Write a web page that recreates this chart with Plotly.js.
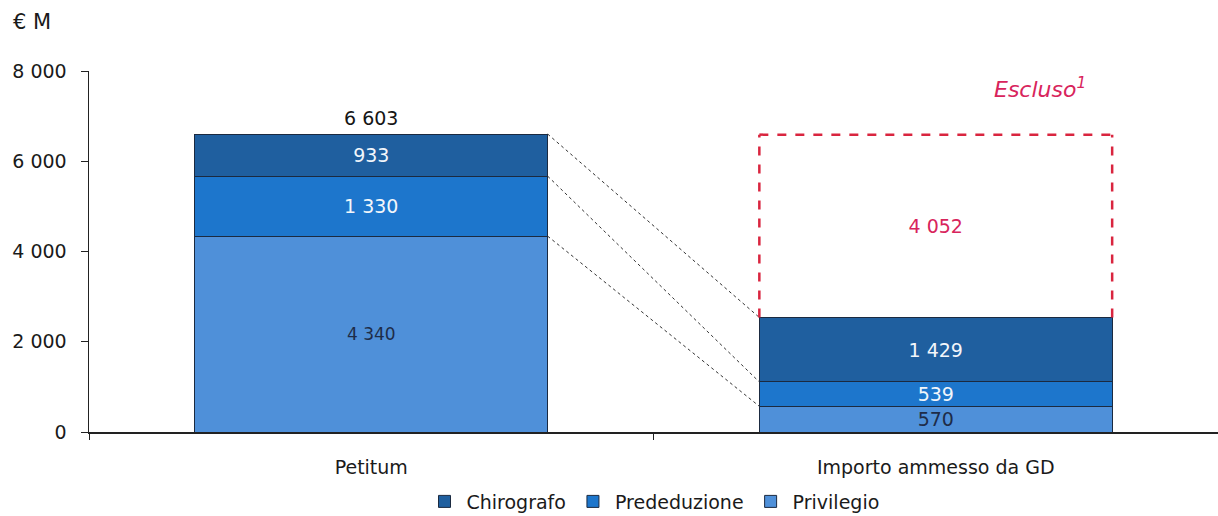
<!DOCTYPE html>
<html><head><meta charset="utf-8">
<script src="https://cdn.plot.ly/plotly-3.0.1.min.js"></script>
<style>html,body{margin:0;padding:0;background:#fff;}#chart{width:1218px;height:516px;}</style>
</head><body><div id="chart"></div>
<script>
const categories = ["Petitum", "Importo ammesso da GD"];
const privilegio = [4340, 570];
const prededuzione = [1330, 539];
const chirografo = [933, 1429];
const escluso = [null, 4052];
const seriesNames = ["Privilegio", "Prededuzione", "Chirografo"];
const yTicks = [0, 2000, 4000, 6000, 8000];

const FONT = "DejaVu Sans, Verdana, sans-serif";
const barWidth = 0.625;
const edge = "#1b2a40";

const totals = categories.map((c, i) => privilegio[i] + prededuzione[i] + chirografo[i]);
const exIdx = escluso.map((v, i) => v == null ? -1 : i).filter(i => i >= 0);

const traces = [
  {type: "bar", name: seriesNames[0], x: categories, y: privilegio, width: barWidth,
   marker: {color: "#4f90d9", line: {color: edge, width: 1}},
   texttemplate: "%{y:,}", textposition: "inside", insidetextanchor: "middle", constraintext: "none",
   textfont: {family: FONT, size: [17, 19], color: "#1e2c48"}, hoverinfo: "y+name"},
  {type: "bar", name: seriesNames[1], x: categories, y: prededuzione, width: barWidth,
   marker: {color: "#1d76cc", line: {color: edge, width: 1}},
   texttemplate: "%{y:,}", textposition: "inside", insidetextanchor: "middle", constraintext: "none",
   textfont: {family: FONT, size: 19, color: "#f2f6fb"}, hoverinfo: "y+name"},
  {type: "bar", name: seriesNames[2], x: categories, y: chirografo, width: barWidth,
   marker: {color: "#1f5f9f", line: {color: edge, width: 1}},
   texttemplate: "%{y:,}", textposition: "inside", insidetextanchor: "middle", constraintext: "none",
   textfont: {family: FONT, size: 19, color: "#f2f6fb"}, hoverinfo: "y+name"},
  {type: "bar", name: "Escluso", x: exIdx.map(i => categories[i]), y: exIdx.map(i => escluso[i]),
   width: barWidth, showlegend: false,
   marker: {color: "rgba(0,0,0,0)", line: {width: 0}},
   texttemplate: "%{y:,}", textposition: "inside", insidetextanchor: "middle", constraintext: "none",
   textfont: {family: FONT, size: 19, color: "#d8245c"}, hoverinfo: "y+name"}
];

// connector dotted lines
const shapes = [];
const leftLevels = [totals[0], privilegio[0] + prededuzione[0], privilegio[0]];
const rightLevels = [totals[1], privilegio[1] + prededuzione[1], privilegio[1]];
for (let k = 0; k < 3; k++) {
  shapes.push({type: "line", xref: "x", yref: "y", x0: 0 + barWidth / 2, x1: 1 - barWidth / 2,
    y0: leftLevels[k], y1: rightLevels[k], line: {color: "#333", width: 1, dash: "dot"}});
}
// dashed outline of excluded amount
const exTop = totals[1] + escluso[1];
const xl = 1 - barWidth / 2, xr = 1 + barWidth / 2;
const dashLine = {color: "#d9253f", width: 2.5, dash: "dash"};
shapes.push({type: "line", xref: "x", yref: "y", x0: xl, x1: xl, y0: totals[1], y1: exTop, line: dashLine});
shapes.push({type: "line", xref: "x", yref: "y", x0: xl, x1: xr, y0: exTop, y1: exTop, line: dashLine});
shapes.push({type: "line", xref: "x", yref: "y", x0: xr, x1: xr, y0: totals[1], y1: exTop, line: dashLine});

const fmt = v => String(v).replace(/\B(?=(\d{3})+(?!\d))/g, " ");

const layout = {
  width: 1218, height: 516,
  margin: {l: 89, r: 0, t: 71, b: 84, autoexpand: false},
  paper_bgcolor: "#fff", plot_bgcolor: "#fff",
  barmode: "stack",
  separators: ", ",
  font: {family: FONT, size: 19, color: "#1a1a1a"},
  showlegend: true,
  legend: {orientation: "h", xref: "paper", x: 0.5, xanchor: "center",
           yref: "container", y: 0.028, yanchor: "middle",
           traceorder: "reversed", itemwidth: 34,
           font: {family: FONT, size: 19, color: "#1a1a1a"}},
  xaxis: {type: "category", range: [-0.5, 1.5], showline: true, linecolor: "#222", linewidth: 1.5,
          automargin: false,
          ticks: "outside", tickson: "boundaries", ticklen: 6, tickcolor: "#222", ticklabelstandoff: 18,
          showgrid: false, zeroline: false, tickfont: {family: FONT, size: 19, color: "#1a1a1a"}},
  yaxis: {range: [0, 8000], tickvals: yTicks, tickformat: ",", showline: true, linecolor: "#222",
          automargin: false,
          linewidth: 1.5, ticks: "outside", ticklen: 7, tickcolor: "#222", showgrid: false,
          ticklabelstandoff: 10,
          zeroline: false, tickfont: {family: FONT, size: 19, color: "#1a1a1a"}},
  shapes: shapes,
  annotations: [
    {xref: "paper", yref: "paper", x: -0.069, y: 1.136, xanchor: "left", yanchor: "middle",
     text: "€ M", showarrow: false, font: {family: FONT, size: 21, color: "#1a1a1a"}},
    {xref: "paper", yref: "paper", x: 0.842, y: 0.953, xanchor: "center", yanchor: "middle",
     text: "<i>Escluso<sup>1</sup></i>", showarrow: false, font: {family: FONT, size: 22, color: "#d8245c"}},
    {xref: "x", yref: "y", x: categories[0], y: totals[0], xanchor: "center", yanchor: "bottom",
     yshift: 3, text: fmt(totals[0]), showarrow: false, font: {family: FONT, size: 19, color: "#151515"}}
  ]
};

Plotly.newPlot("chart", traces, layout, {displayModeBar: false, staticPlot: true});
</script></body></html>
